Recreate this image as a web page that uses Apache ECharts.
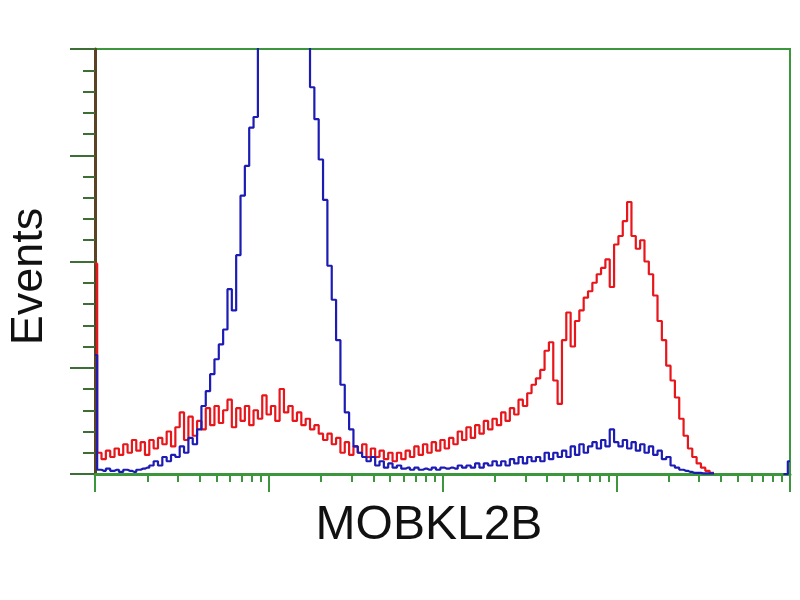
<!DOCTYPE html>
<html><head><meta charset="utf-8">
<script src="https://cdn.jsdelivr.net/npm/echarts@6/dist/echarts.min.js"></script>
<style>html,body{margin:0;padding:0;background:#fff}#c{width:800px;height:600px}</style>
</head><body><div id="c"></div>
<script>
// Histogram: 4 log decades, 40 channels per decade (channel index -> decade position)
const channelsPerDecade = 40;
const decadeTicks = [0, 1, 2, 3, 4];
const yTicksMax = 200;

const redCounts = [
  99,
  10,7,11,8,12,9,14,10,16,11,
  15,9,16,12,17,14,20,13,22,29,
  16,27,18,25,21,31,23,32,24,30,
  35,22,31,25,32,23,30,26,37,28,
  32,25,40,29,32,25,29,23,26,21,
  23,19,16,19,14,17,10,15,9,13,
  10,14,8,12,8,11,7,10,6,10,
  7,11,8,13,9,14,10,15,11,16,
  12,17,14,20,16,22,17,23,19,25,
  21,26,23,29,25,31,28,35,32,38,
  42,45,49,58,62,44,33,63,76,60,
  72,77,83,86,90,94,97,101,88,108,
  112,119,128,112,106,110,100,94,84,72,
  63,51,44,36,26,18,12,8,5,3,
  1.5,0.5,
  null,null,null,null,null,null,null,null,null,null,null,null,null,null,null,null,null,null
];

const blueCounts = [
  56,
  2,1.5,2.5,1.5,2,1,2,1.5,1,2,
  2.5,3,4,6,4,8,6,9,8,13,
  10,17,14,21,32,39,47,54,61,68,
  87,77,103,131,145,163,168,260,300,330,
  350,360,355,345,330,310,290,270,240,182,
  167,148,129,98,82,63,42,29,21,13,
  10,8,6,8,4,6,3,5,3,4,
  2.5,3,2,3,2,2.5,2,3,2,3,
  2.5,3,2.5,4,3,4,3,5,3,5,
  4,6,4,6,4,7,5,8,5,8,
  6,8,6,10,7,10,8,11,8,13,
  9,14,10,13,15,12,16,13,21,15,
  13,16,12,15,11,14,10,13,9,11,
  7,8,4,3,2,1.5,1,0.5,0.5,0.3,
  0.3,0.3,
  null,null,null,null,null,null,null,null,null,null,null,null,null,null,null,null,
  0,6
];

const minorTickValues = [];
for (let d = 0; d < decadeTicks.length - 1; d++) {
  for (let k = 2; k <= 9; k++) minorTickValues.push(decadeTicks[d] + Math.log10(k));
}

const toPairs = arr => arr.map((v, i) => [i / channelsPerDecade, v]);

const green = '#3c963c';
const chart = echarts.init(document.getElementById('c'), null, {renderer: 'canvas'});
chart.setOption({
  animation: false,
  backgroundColor: '#ffffff',
  grid: {left: 95, right: 10, top: 49, bottom: 126, show: true, borderColor: green, borderWidth: 2,
         containLabel: false, outerBoundsMode: 'none'},
  xAxis: [
    {
      type: 'value', min: decadeTicks[0], max: decadeTicks[decadeTicks.length - 1], interval: 1,
      name: 'MOBKL2B', nameLocation: 'middle', nameGap: 28,
      nameTextStyle: {fontSize: 48, color: '#111', fontFamily: 'Liberation Sans, Arial, sans-serif', padding: [0, 27, 0, 0]},
      axisLine: {lineStyle: {color: green, width: 3}},
      axisTick: {length: 18, lineStyle: {color: green, width: 2}},
      axisLabel: {show: false}, splitLine: {show: false}
    },
    {
      type: 'value', min: decadeTicks[0], max: decadeTicks[decadeTicks.length - 1], position: 'bottom',
      axisLine: {show: false},
      axisTick: {show: true, length: 8, customValues: minorTickValues, lineStyle: {color: green, width: 2}},
      axisLabel: {show: false}, splitLine: {show: false}
    }
  ],
  yAxis: {
    type: 'value', min: 0, max: yTicksMax, interval: 50,
    name: 'Events', nameLocation: 'middle', nameRotate: 90, nameGap: 43,
    nameTextStyle: {fontSize: 45, color: '#111', fontFamily: 'Liberation Sans, Arial, sans-serif', padding: [0, 30, 0, 0]},
    axisLine: {lineStyle: {color: '#5a4222', width: 3}},
    axisTick: {length: 25, lineStyle: {color: '#3d6e36', width: 2}},
    minorTick: {show: true, splitNumber: 5, length: 12, lineStyle: {color: '#3d6e36', width: 2}},
    axisLabel: {show: false}, splitLine: {show: false}
  },
  series: [
    {type: 'line', name: 'Control', data: toPairs(redCounts), xAxisIndex: 0, showSymbol: false, step: 'middle',
     lineStyle: {color: '#e8161b', width: 2.2}, clip: true},
    {type: 'line', name: 'MOBKL2B', data: toPairs(blueCounts), xAxisIndex: 0, showSymbol: false, step: 'middle',
     lineStyle: {color: '#1c1cb4', width: 2.2}, clip: true}
  ]
});
</script>
</body></html>
